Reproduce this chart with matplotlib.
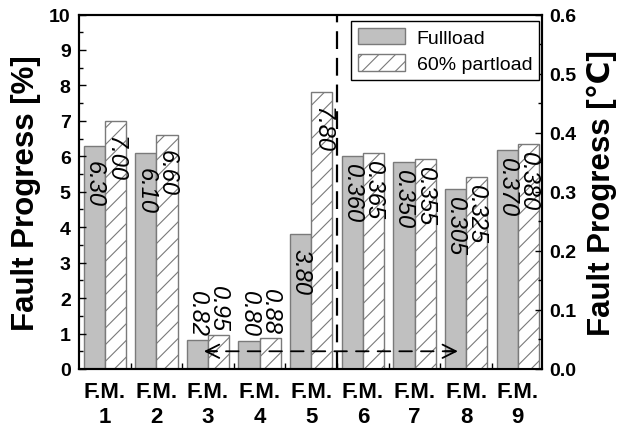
import matplotlib
matplotlib.use("Agg")
import matplotlib.pyplot as plt
from matplotlib.ticker import MultipleLocator, FixedLocator
import numpy as np

plt.rcParams['font.family'] = ['Liberation Sans', 'DejaVu Sans']
plt.rcParams['hatch.linewidth'] = 0.8

# ---- data ----
groups_left = ["F.M.\n1", "F.M.\n2", "F.M.\n3", "F.M.\n4", "F.M.\n5"]
full_left = [6.30, 6.10, 0.82, 0.80, 3.80]      # %
part_left = [7.00, 6.60, 0.95, 0.88, 7.80]      # %
groups_right = ["F.M.\n6", "F.M.\n7", "F.M.\n8", "F.M.\n9"]
full_right = [0.360, 0.350, 0.305, 0.370]       # degC
part_right = [0.365, 0.355, 0.325, 0.380]       # degC
series_names = ["Fullload", "60% partload"]

labels = groups_left + groups_right
n_left = len(groups_left)
xl = np.arange(1, n_left + 1)
xr = np.arange(n_left + 1, len(labels) + 1)

fig = plt.figure(figsize=(6.25, 4.27), dpi=100)
ax = fig.add_axes([79/625, 1 - 370/427, (542-79)/625, (370-15.5)/427])
ax2 = ax.twinx()

w = 0.41
off = 0.205
gray = '#c0c0c0'
edge = '#7a7a7a'

b1 = ax.bar(xl - off, full_left, w, color=gray, edgecolor=edge, linewidth=1)
b2 = ax.bar(xl + off, part_left, w, color='white', edgecolor=edge, hatch='//', linewidth=1)
ax2.bar(xr - off, full_right, w, color=gray, edgecolor=edge, linewidth=1)
ax2.bar(xr + off, part_right, w, color='white', edgecolor=edge, hatch='//', linewidth=1)

ax.set_xlim(0.5, 9.47)
ax.set_ylim(0, 10)
ax2.set_ylim(0, 0.6)

lab_fs = 17

def put_labels(axis, xs, vals, fmt, ymax, inside_off):
    for x, v in zip(xs, vals):
        s = fmt.format(v)
        if v / ymax < 0.15:
            axis.annotate(s, (x, v), xytext=(0, 3), textcoords='offset points',
                          rotation=-90, ha='center', va='bottom',
                          fontsize=lab_fs, style='italic', zorder=6)
        else:
            axis.annotate(s, (x, v), xytext=(0, inside_off), textcoords='offset points',
                          rotation=-90, ha='center', va='top',
                          fontsize=lab_fs, style='italic', zorder=6)

put_labels(ax, xl - off, full_left, "{:.2f}", 10, -10)
put_labels(ax, xl + off, part_left, "{:.2f}", 10, -10)
put_labels(ax2, xr - off, full_right, "{:.3f}", 0.6, -5)
put_labels(ax2, xr + off, part_right, "{:.3f}", 0.6, -5)

# ticks
ax.set_xticks(np.arange(1, len(labels) + 1))
ax.set_xticklabels(labels, fontsize=16, fontweight='bold', linespacing=1.25)
ax.xaxis.set_minor_locator(FixedLocator(np.arange(1.5, len(labels), 1.0)))
ax.tick_params(axis='x', which='major', length=0, pad=9)
ax.tick_params(axis='x', which='minor', direction='in', length=4, width=1)

ax.yaxis.set_major_locator(MultipleLocator(1))
ax.yaxis.set_minor_locator(MultipleLocator(0.5))
ax.tick_params(axis='y', which='major', direction='in', length=5, width=1, labelsize=14, pad=6)
ax.tick_params(axis='y', which='minor', direction='in', length=3, width=1)
for t in ax.get_yticklabels():
    t.set_fontweight('bold')

ax2.yaxis.set_major_locator(MultipleLocator(0.1))
ax2.yaxis.set_minor_locator(MultipleLocator(0.05))
ax2.tick_params(axis='y', which='major', direction='in', length=5, width=1, labelsize=14, pad=5)
ax2.tick_params(axis='y', which='minor', direction='in', length=3, width=1)
ax2.set_yticks(np.arange(0, 0.61, 0.1))
ax2.set_yticklabels([f"{v:.1f}" for v in np.arange(0, 0.61, 0.1)], fontweight='bold', fontsize=14)

for a in (ax, ax2):
    for s in a.spines.values():
        s.set_linewidth(1.5)

ax.set_ylabel("Fault Progress [%]", fontsize=22.5, fontweight='bold', labelpad=6)
ax2.set_ylabel("Fault Progress [℃]", fontsize=22.5, fontweight='bold', labelpad=8)

# vertical dashed separator
ax2.axvline(5.5, color='black', linestyle=(0, (8, 4)), linewidth=1.6, zorder=5)

# dashed double arrow: dashed shaft + solid open heads
arrow_y = 0.5
arrow_x0, arrow_x1 = 2.92, 7.84
ax2.annotate("", xy=(arrow_x0 + 0.05, arrow_y), xytext=(arrow_x1 - 0.05, arrow_y),
             xycoords=ax.transData, textcoords=ax.transData,
             arrowprops=dict(arrowstyle='-', linestyle=(0, (7, 5)), color='black',
                             lw=1.3, shrinkA=0, shrinkB=0), zorder=7)
for xa, xb in ((arrow_x0, arrow_x0 + 0.25), (arrow_x1, arrow_x1 - 0.25)):
    ax2.annotate("", xy=(xa, arrow_y), xytext=(xb, arrow_y),
                 xycoords=ax.transData, textcoords=ax.transData,
                 arrowprops=dict(arrowstyle='->, head_length=0.6, head_width=0.3',
                                 color='black', lw=1.3, shrinkA=0, shrinkB=0,
                                 mutation_scale=16), zorder=7)

leg = ax2.legend([b1, b2], series_names, loc='upper right',
                 bbox_to_anchor=(539/625, 1 - 22/427), bbox_transform=fig.transFigure,
                 borderaxespad=0, fontsize=14, handlelength=2.4, handleheight=0.9,
                 handletextpad=0.6, labelspacing=0.4, borderpad=0.35,
                 fancybox=False, framealpha=1, edgecolor='black')
leg.get_frame().set_linewidth(1)
leg.set_zorder(10)

fig.savefig("out.png", dpi=100)
